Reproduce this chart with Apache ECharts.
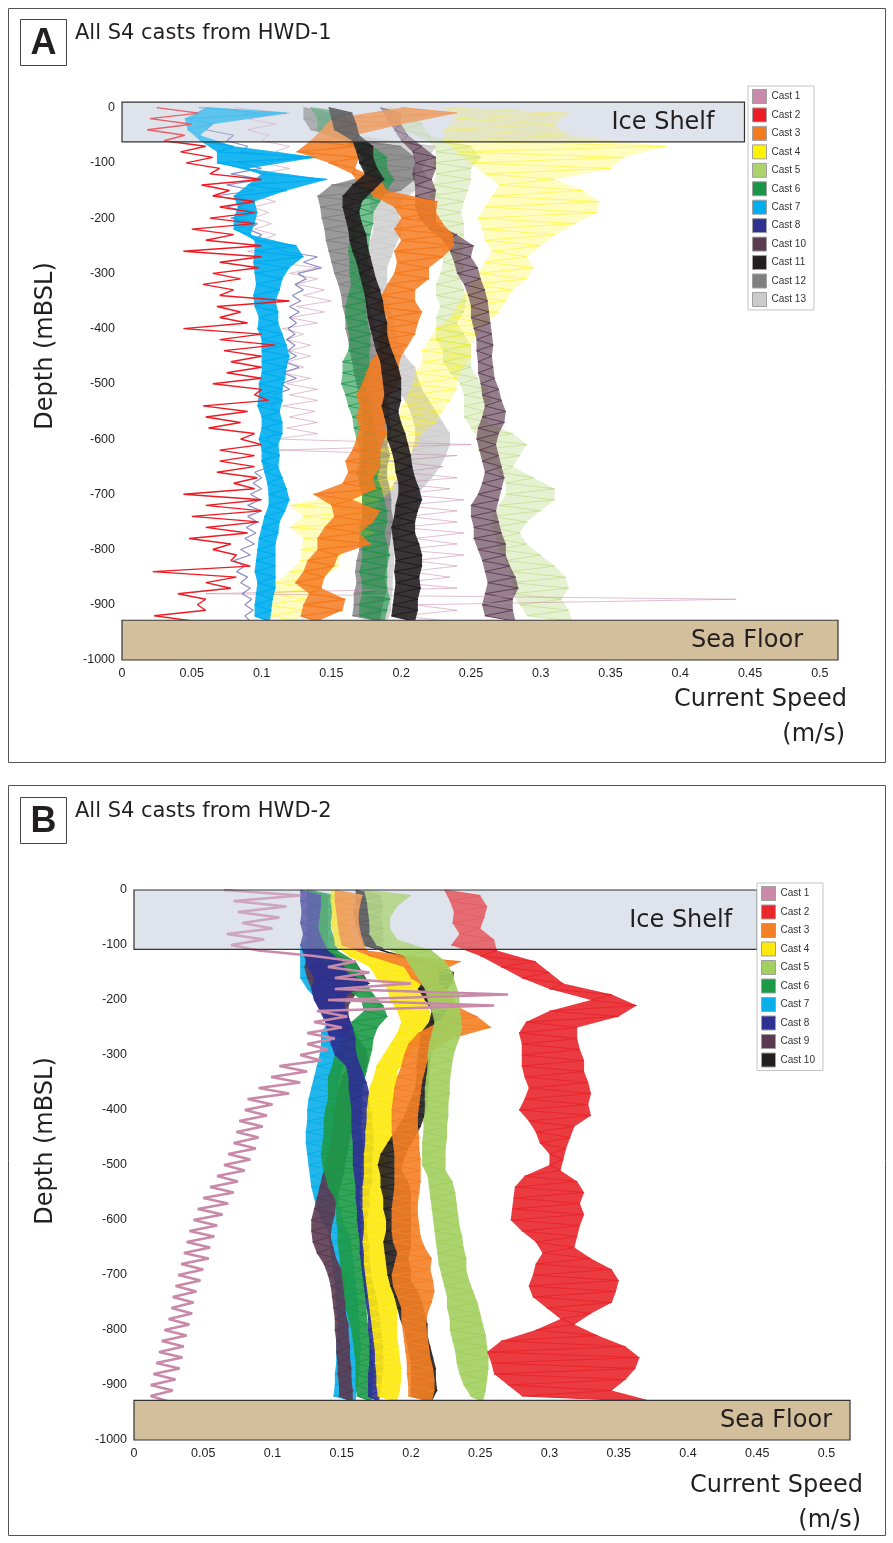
<!DOCTYPE html>
<html>
<head>
<meta charset="utf-8">
<script src="https://cdn.jsdelivr.net/npm/echarts@6.0.0/dist/echarts.min.js"></script>
<style>
  html, body { margin: 0; padding: 0; background: #fff; }
  #chart { width: 893px; height: 1543px; }
</style>
</head>
<body>
<div id="chart"></div>
<script>
// depth levels (m, negative = below sea level) where the low readings were taken
const depths = [0,-20,-40,-60,-80,-100,-120,-140,-160,-180,-200,-220,-240,-260,-280,-300,-320,-340,-360,-380,-400,-420,-440,-460,-480,-500,-520,-540,-560,-580,-600,-620,-640,-660,-680,-700,-720,-740,-760,-780,-800,-820,-840,-860,-880,-900,-920];
// depth levels where the high readings were taken
const peakDepths = [-10,-30,-50,-70,-90,-110,-130,-150,-170,-190,-210,-230,-250,-270,-290,-310,-330,-350,-370,-390,-410,-430,-450,-470,-490,-510,-530,-550,-570,-590,-610,-630,-650,-670,-690,-710,-730,-750,-770,-790,-810,-830,-850,-870,-890,-910,-930];

// boxes: [speedFrom, speedTo, depthTop, depthBottom]
const shelfA = [0, 0.446, 10, -62];
const floorA = [0, 0.513, -928, -1000];
const shelfB = [0, 0.45, 0, -108];
const floorB = [0, 0.517, -928, -1000];

// ---- HWD-1: per cast, low / high speed (m/s) ----
const a1Lo = [.08,.09,.09,.1,.11,.1,.098,.095,.095,.094,.094,.095,.1,.09,.11,.12,.125,.13,.125,.12,.115,.118,.12,.118,.115,.118,.12,.115,.12,.118,.11,.112,.19,.2,.195,.2,.2,.205,.2,.21,.2,.21,.205,.2,.06,.21,.2];
const a1Hi = [.12,.11,.105,.12,.13,.12,.11,.108,.11,.105,.107,.11,.12,.11,.14,.14,.145,.15,.145,.14,.13,.135,.135,.13,.135,.14,.14,.138,.14,.14,.25,.24,.23,.24,.235,.245,.24,.24,.245,.24,.245,.24,.235,.24,.44,.24,.235];
const a2Lo = [.025,.02,.018,.03,.042,.046,.063,.057,.065,.07,.063,.05,.06,.044,.07,.065,.058,.07,.068,.07,.044,.07,.073,.078,.075,.065,.095,.058,.06,.062,.085,.07,.07,.068,.08,.044,.06,.05,.06,.048,.065,.078,.022,.06,.04,.054,.023];
const a2Hi = [.055,.05,.045,.06,.065,.07,.1,.077,.095,.095,.095,.08,.1,.1,.098,.085,.08,.12,.085,.09,.1,.11,.1,.1,.1,.1,.105,.09,.085,.095,.1,.095,.095,.097,.095,.1,.1,.098,.09,.078,.082,.092,.082,.078,.06,.06,.053];
const a3Lo = [.2,.15,.143,.135,.125,.148,.165,.17,.18,.195,.2,.195,.2,.195,.197,.195,.19,.186,.18,.19,.185,.183,.184,.178,.175,.172,.168,.17,.168,.17,.168,.165,.16,.162,.158,.137,.15,.152,.145,.14,.14,.133,.13,.124,.134,.13,.128];
const a3Hi = [.24,.2,.167,.167,.17,.167,.185,.19,.226,.225,.23,.237,.238,.23,.22,.22,.21,.21,.215,.212,.21,.205,.2,.198,.2,.195,.19,.19,.188,.19,.186,.185,.185,.18,.182,.165,.185,.18,.17,.178,.155,.152,.145,.143,.16,.158,.14];
const a4Lo = [.23,.24,.23,.23,.24,.25,.26,.27,.265,.26,.255,.258,.26,.265,.26,.255,.25,.245,.24,.235,.225,.22,.215,.215,.21,.208,.205,.2,.198,.19,.188,.185,.18,.175,.17,.155,.12,.13,.12,.13,.128,.128,.12,.11,.105,.104,.105];
const a4Hi = [.32,.31,.32,.39,.36,.35,.31,.33,.342,.34,.325,.31,.3,.29,.295,.29,.28,.275,.27,.262,.255,.25,.25,.245,.24,.24,.235,.23,.225,.215,.212,.205,.2,.198,.195,.185,.18,.175,.18,.165,.157,.155,.145,.14,.133,.13,.125];
const a5Lo = [.19,.195,.2,.22,.225,.223,.225,.223,.22,.222,.22,.225,.23,.23,.23,.228,.225,.225,.228,.225,.225,.225,.23,.23,.235,.242,.245,.245,.245,.25,.255,.255,.26,.27,.275,.275,.27,.265,.265,.268,.27,.275,.278,.28,.28,.285,.29];
const a5Hi = [.215,.215,.22,.25,.257,.25,.25,.248,.245,.243,.245,.245,.245,.243,.245,.243,.245,.247,.245,.24,.245,.25,.25,.25,.255,.262,.265,.26,.262,.28,.29,.285,.28,.295,.31,.31,.3,.29,.285,.29,.3,.31,.318,.32,.315,.32,.323];
const a6Lo = [.135,.14,.14,.16,.17,.172,.175,.17,.17,.168,.165,.165,.163,.162,.163,.163,.164,.162,.16,.16,.162,.163,.162,.158,.158,.157,.16,.162,.165,.166,.168,.17,.17,.168,.17,.172,.172,.172,.17,.17,.172,.172,.17,.172,.172,.17,.17];
const a6Hi = [.16,.165,.165,.18,.19,.19,.195,.19,.185,.18,.18,.178,.177,.176,.178,.177,.178,.176,.175,.176,.178,.178,.177,.178,.176,.175,.178,.18,.18,.182,.183,.185,.185,.183,.186,.188,.19,.19,.188,.19,.192,.19,.19,.19,.192,.19,.188];
const a7Lo = [.06,.045,.047,.056,.068,.068,.1,.09,.08,.083,.08,.08,.095,.095,.094,.095,.096,.094,.095,.098,.097,.1,.1,.1,.1,.098,.098,.097,.1,.1,.098,.1,.1,.102,.104,.105,.105,.102,.1,.098,.097,.096,.095,.097,.096,.095,.095];
const a7Hi = [.118,.065,.056,.08,.14,.09,.147,.118,.095,.097,.095,.092,.125,.13,.12,.115,.113,.11,.112,.112,.115,.118,.12,.118,.117,.115,.115,.113,.115,.115,.112,.113,.112,.115,.118,.12,.117,.113,.112,.11,.11,.11,.11,.11,.108,.107,.106];
const a8Lo = [.055,.055,.06,.075,.085,.083,.078,.075,.067,.075,.078,.09,.095,.115,.13,.126,.124,.122,.12,.12,.119,.118,.119,.116,.115,.114,.108,.106,.105,.104,.104,.102,.1,.095,.094,.092,.09,.09,.089,.088,.085,.08,.082,.085,.086,.088,.088];
const a8Hi = [.1,.065,.08,.09,.13,.1,.1,.095,.09,.095,.097,.1,.11,.14,.143,.132,.13,.128,.127,.125,.124,.124,.125,.127,.125,.12,.115,.112,.11,.11,.108,.108,.106,.1,.1,.099,.1,.097,.096,.095,.092,.088,.09,.092,.093,.094,.092];
const a10Lo = [.185,.19,.195,.2,.208,.21,.208,.21,.21,.21,.213,.22,.23,.235,.238,.24,.245,.248,.25,.25,.252,.254,.254,.255,.255,.257,.258,.26,.258,.255,.254,.256,.258,.26,.258,.255,.25,.25,.252,.252,.255,.258,.26,.262,.26,.258,.26];
const a10Hi = [.2,.2,.205,.215,.225,.225,.222,.225,.224,.225,.225,.24,.252,.25,.255,.257,.26,.262,.263,.264,.265,.266,.265,.266,.267,.27,.272,.275,.274,.27,.268,.27,.272,.274,.272,.27,.268,.27,.272,.275,.275,.278,.282,.284,.28,.28,.282];
const a11Lo = [.148,.15,.152,.165,.168,.17,.174,.165,.158,.158,.16,.162,.163,.165,.168,.17,.172,.174,.175,.176,.178,.18,.182,.185,.186,.187,.188,.186,.188,.19,.19,.193,.195,.196,.198,.198,.196,.195,.193,.194,.195,.196,.195,.196,.195,.194,.193];
const a11Hi = [.165,.168,.17,.18,.18,.183,.188,.18,.172,.17,.172,.175,.176,.178,.18,.182,.185,.187,.188,.19,.19,.192,.195,.198,.2,.2,.2,.198,.2,.203,.205,.207,.208,.21,.213,.215,.212,.21,.21,.213,.215,.215,.213,.214,.212,.212,.21];
const a12Lo = [.13,.13,.135,.16,.17,.175,.18,.15,.14,.142,.143,.145,.146,.148,.15,.152,.155,.157,.158,.16,.16,.162,.163,.165,.166,.168,.17,.172,.172,.173,.172,.172,.172,.17,.17,.172,.172,.173,.172,.17,.17,.168,.167,.168,.166,.166,.165];
const a12Hi = [.15,.152,.155,.2,.21,.21,.21,.2,.168,.166,.167,.168,.168,.17,.17,.172,.175,.176,.178,.18,.18,.182,.183,.185,.186,.188,.19,.192,.192,.193,.19,.192,.19,.19,.192,.193,.193,.195,.193,.192,.19,.19,.188,.19,.188,.186,.185];
const a13Lo = [.14,.145,.15,.18,.182,.18,.185,.18,.178,.178,.18,.18,.178,.175,.172,.172,.17,.172,.174,.176,.178,.182,.185,.19,.193,.196,.2,.205,.208,.21,.21,.208,.205,.2,.195,.19,.185,.183,.182,.18,.178,.178,.177,.176,.175,.175,.174];
const a13Hi = [.16,.16,.165,.225,.22,.215,.22,.21,.2,.198,.2,.2,.196,.193,.19,.19,.19,.19,.193,.195,.197,.2,.203,.21,.212,.215,.22,.225,.23,.235,.235,.232,.228,.222,.215,.21,.205,.2,.198,.197,.195,.195,.194,.194,.193,.193,.19];

// ---- HWD-2 ----
const b1Lo = [.065,.072,.075,.078,.067,.07,.13,.14,.145,.145,.14,.132,.13,.125,.125,.12,.105,.099,.09,.082,.08,.076,.074,.072,.068,.065,.06,.055,.05,.046,.043,.04,.038,.036,.034,.032,.03,.028,.027,.025,.022,.02,.018,.016,.014,.012,.012];
const b1Hi = [.12,.11,.105,.1,.094,.09,.16,.17,.2,.27,.26,.154,.15,.145,.14,.135,.125,.12,.112,.1,.096,.093,.09,.088,.084,.08,.075,.072,.068,.064,.06,.058,.055,.054,.05,.048,.045,.043,.042,.04,.038,.036,.035,.033,.03,.028,.025];
const b2Lo = [.224,.228,.231,.23,.235,.229,.25,.265,.28,.3,.33,.3,.283,.278,.28,.28,.28,.282,.285,.282,.278,.285,.29,.293,.3,.3,.282,.275,.274,.273,.272,.28,.29,.295,.29,.288,.285,.288,.298,.308,.29,.265,.255,.258,.26,.27,.28];
const b2Hi = [.25,.255,.253,.25,.26,.262,.29,.3,.31,.345,.363,.35,.32,.32,.322,.325,.325,.328,.33,.328,.33,.318,.315,.312,.31,.308,.32,.325,.322,.325,.322,.32,.318,.33,.345,.35,.348,.345,.33,.318,.335,.355,.365,.362,.355,.345,.375];
const b3Lo = [.145,.145,.146,.147,.148,.15,.17,.195,.2,.212,.213,.226,.22,.205,.198,.195,.193,.19,.188,.187,.186,.186,.186,.187,.188,.188,.188,.188,.187,.186,.186,.186,.187,.19,.188,.186,.187,.19,.193,.193,.194,.195,.196,.197,.197,.198,.198];
const b3Hi = [.165,.163,.162,.163,.165,.168,.236,.22,.22,.231,.232,.248,.258,.23,.217,.212,.21,.208,.207,.206,.205,.205,.206,.206,.207,.207,.207,.206,.205,.205,.206,.207,.21,.215,.214,.216,.217,.215,.212,.211,.212,.213,.214,.216,.217,.217,.215];
const b4Lo = [.142,.142,.143,.142,.144,.145,.155,.17,.175,.183,.185,.19,.193,.19,.185,.18,.175,.173,.17,.169,.168,.168,.167,.167,.166,.166,.166,.165,.165,.165,.166,.166,.165,.166,.166,.167,.168,.169,.17,.171,.172,.173,.174,.174,.175,.175,.176];
const b4Hi = [.157,.156,.156,.156,.158,.16,.19,.2,.207,.212,.212,.215,.217,.21,.2,.196,.19,.19,.188,.188,.187,.186,.186,.185,.185,.184,.184,.184,.183,.183,.184,.184,.183,.183,.184,.186,.188,.19,.19,.19,.19,.191,.192,.193,.193,.192,.19];
const b5Lo = [.166,.168,.169,.17,.17,.175,.195,.2,.205,.21,.212,.215,.217,.215,.213,.212,.212,.211,.21,.21,.21,.209,.209,.208,.208,.208,.212,.213,.214,.215,.216,.217,.218,.219,.22,.222,.224,.226,.226,.228,.228,.23,.232,.233,.235,.238,.243];
const b5Hi = [.2,.19,.185,.185,.19,.215,.225,.23,.232,.235,.235,.236,.237,.235,.232,.23,.229,.228,.228,.227,.227,.226,.226,.225,.225,.225,.23,.232,.233,.234,.235,.237,.238,.24,.24,.242,.245,.248,.25,.252,.254,.255,.256,.256,.255,.254,.252];
const b6Lo = [.125,.126,.127,.125,.128,.13,.13,.14,.15,.154,.164,.166,.157,.156,.148,.145,.143,.14,.14,.14,.138,.137,.137,.136,.135,.136,.138,.14,.145,.146,.146,.147,.147,.148,.149,.15,.151,.152,.153,.155,.157,.158,.159,.16,.16,.16,.161];
const b6Hi = [.145,.143,.143,.142,.145,.147,.16,.164,.168,.173,.18,.183,.176,.173,.172,.17,.168,.166,.165,.165,.165,.164,.165,.166,.165,.164,.165,.163,.163,.164,.164,.164,.165,.165,.166,.167,.168,.168,.168,.169,.17,.171,.172,.173,.173,.172,.172];
const b7Lo = [.128,.128,.128,.128,.128,.12,.12,.12,.12,.125,.132,.135,.14,.135,.135,.134,.132,.13,.128,.126,.125,.125,.124,.124,.125,.126,.127,.128,.13,.132,.135,.14,.141,.142,.143,.144,.145,.146,.146,.147,.147,.146,.146,.146,.145,.145,.144];
const b7Hi = [.14,.14,.14,.14,.14,.135,.14,.145,.15,.148,.145,.15,.16,.154,.153,.152,.15,.148,.147,.146,.145,.145,.144,.143,.143,.144,.145,.146,.148,.15,.152,.156,.157,.158,.159,.16,.161,.162,.162,.163,.163,.164,.163,.163,.162,.161,.16];
const b8Lo = [.12,.12,.121,.12,.122,.12,.123,.125,.13,.128,.13,.134,.138,.14,.142,.145,.153,.155,.155,.156,.157,.157,.157,.158,.158,.158,.159,.16,.16,.161,.161,.162,.163,.163,.164,.165,.166,.167,.168,.169,.169,.17,.17,.17,.169,.169,.169];
const b8Hi = [.135,.135,.134,.133,.136,.14,.15,.154,.17,.154,.152,.155,.158,.16,.16,.162,.165,.168,.17,.17,.172,.172,.173,.173,.172,.172,.172,.17,.17,.169,.168,.169,.17,.17,.171,.172,.174,.176,.177,.178,.179,.18,.18,.18,.179,.178,.177];
const b9Lo = [.125,.125,.125,.125,.125,.125,.125,.123,.125,.128,.13,.135,.14,.148,.155,.157,.155,.15,.148,.146,.145,.144,.143,.142,.14,.138,.136,.134,.132,.13,.128,.128,.129,.132,.137,.14,.142,.143,.144,.145,.145,.146,.146,.147,.147,.148,.148];
const b9Hi = [.14,.14,.14,.14,.14,.14,.16,.165,.17,.16,.155,.155,.158,.162,.168,.169,.167,.165,.163,.16,.158,.157,.156,.155,.153,.152,.15,.148,.146,.145,.143,.142,.144,.146,.15,.153,.152,.153,.153,.155,.155,.156,.156,.157,.157,.158,.158];
const b10Lo = [.16,.16,.158,.16,.162,.165,.19,.212,.21,.205,.21,.215,.213,.207,.206,.205,.204,.204,.203,.2,.197,.193,.188,.183,.178,.176,.178,.178,.18,.18,.182,.182,.18,.181,.182,.183,.185,.188,.19,.192,.195,.197,.198,.2,.2,.2,.2];
const b10Hi = [.178,.18,.178,.18,.18,.18,.215,.231,.23,.222,.225,.236,.233,.218,.215,.214,.213,.213,.212,.212,.21,.207,.203,.198,.195,.193,.198,.2,.2,.2,.2,.2,.2,.198,.2,.2,.205,.208,.21,.212,.212,.214,.216,.218,.218,.219,.215];

const legendNamesA = ['Cast 1','Cast 2','Cast 3','Cast 4','Cast 5','Cast 6','Cast 7','Cast 8','Cast 10','Cast 11','Cast 12','Cast 13'];
const legendNamesB = ['Cast 1','Cast 2','Cast 3','Cast 4','Cast 5','Cast 6','Cast 7','Cast 8','Cast 9','Cast 10'];

// draw order is back to front
const castsA = [
  { name: 'Cast 13', color: '#cbcbcb', lo: a13Lo, hi: a13Hi, fill: 0.8, width: 1, alpha: 0.9 },
  { name: 'Cast 12', color: '#808080', lo: a12Lo, hi: a12Hi, fill: 0.8, width: 1, alpha: 0.9 },
  { name: 'Cast 5',  color: '#acd26a', lo: a5Lo,  hi: a5Hi,  fill: 0.3, width: 0.8, alpha: 0.6 },
  { name: 'Cast 4',  color: '#fff200', lo: a4Lo,  hi: a4Hi,  fill: 0.25, width: 0.8, alpha: 0.6 },
  { name: 'Cast 6',  color: '#1a9547', lo: a6Lo,  hi: a6Hi,  fill: 0.6, width: 1, alpha: 0.85 },
  { name: 'Cast 10', color: '#5c3a50', lo: a10Lo, hi: a10Hi, fill: 0.65, width: 1, alpha: 0.9 },
  { name: 'Cast 1',  color: '#c98aa9', lo: a1Lo,  hi: a1Hi,  fill: 0, width: 1, alpha: 0.55 },
  { name: 'Cast 8',  color: '#2e3192', lo: a8Lo,  hi: a8Hi,  fill: 0, width: 1.2, alpha: 0.55 },
  { name: 'Cast 7',  color: '#00aeef', lo: a7Lo,  hi: a7Hi,  fill: 0.9, width: 1.3, alpha: 1 },
  { name: 'Cast 3',  color: '#f47b20', lo: a3Lo,  hi: a3Hi,  fill: 0.85, width: 1.3, alpha: 1 },
  { name: 'Cast 11', color: '#231f20', lo: a11Lo, hi: a11Hi, fill: 0.9, width: 1.2, alpha: 1 },
  { name: 'Cast 2',  color: '#ed1c24', lo: a2Lo,  hi: a2Hi,  fill: 0, width: 1.4, alpha: 1 }
];
const castsB = [
  { name: 'Cast 7',  color: '#0aaee9', lo: b7Lo,  hi: b7Hi,  fill: 0.9, width: 1.2, alpha: 1 },
  { name: 'Cast 9',  color: '#5b3a51', lo: b9Lo,  hi: b9Hi,  fill: 0.9, width: 1.2, alpha: 1 },
  { name: 'Cast 6',  color: '#1d9a48', lo: b6Lo,  hi: b6Hi,  fill: 0.9, width: 1.2, alpha: 1 },
  { name: 'Cast 8',  color: '#2e3192', lo: b8Lo,  hi: b8Hi,  fill: 0.9, width: 1.2, alpha: 1 },
  { name: 'Cast 4',  color: '#fde910', lo: b4Lo,  hi: b4Hi,  fill: 0.9, width: 1.2, alpha: 1 },
  { name: 'Cast 10', color: '#231f20', lo: b10Lo, hi: b10Hi, fill: 0.9, width: 1.2, alpha: 1 },
  { name: 'Cast 3',  color: '#f47f25', lo: b3Lo,  hi: b3Hi,  fill: 0.9, width: 1.2, alpha: 1 },
  { name: 'Cast 5',  color: '#a2cf5f', lo: b5Lo,  hi: b5Hi,  fill: 0.9, width: 1.2, alpha: 1 },
  { name: 'Cast 1',  color: '#c98aa9', lo: b1Lo,  hi: b1Hi,  fill: 0, width: 2.4, alpha: 1 },
  { name: 'Cast 2',  color: '#e8262b', lo: b2Lo,  hi: b2Hi,  fill: 0.9, width: 1.2, alpha: 1 }
];

const FONT = 'Liberation Sans';
const TEXT = '#231f20';

// sawtooth through the low and high readings
function zig(lo, hi) {
  const pts = [];
  depths.forEach((d, i) => {
    pts.push([lo[i], d], [hi[i], peakDepths[i]]);
  });
  return pts;
}

function fillSeries(ax, c, z) {
  return {
    type: 'custom', xAxisIndex: ax, yAxisIndex: ax, z: z, silent: true, animation: false,
    data: [[c.lo[0], depths[0]]],
    renderItem: (params, api) => {
      const pts = depths.map((d, i) => api.coord([c.lo[i], d]));
      for (let i = depths.length - 1; i >= 0; i--) pts.push(api.coord([c.hi[i], peakDepths[i]]));
      return { type: 'polygon', shape: { points: pts }, style: { fill: c.color, opacity: c.fill } };
    }
  };
}

function lineSeries(ax, tag, c, z) {
  return {
    name: tag + '|' + c.name, type: 'line', xAxisIndex: ax, yAxisIndex: ax, z: z,
    color: c.color, symbol: 'none', silent: true, animation: false,
    lineStyle: { width: c.width, opacity: c.alpha },
    data: zig(c.lo, c.hi)
  };
}

// rectangle between two data corners, optional label on the right
function boxSeries(ax, box, z, style, label, pad) {
  return {
    type: 'custom', xAxisIndex: ax, yAxisIndex: ax, z: z, silent: true, animation: false,
    data: [box],
    renderItem: (params, api) => {
      const p0 = api.coord([box[0], box[2]]);
      const p1 = api.coord([box[1], box[3]]);
      const children = [{
        type: 'rect',
        shape: { x: p0[0], y: p0[1], width: p1[0] - p0[0], height: p1[1] - p0[1] },
        style: style
      }];
      if (label) {
        children.push({
          type: 'text',
          style: {
            text: label, x: p1[0] - pad, y: (p0[1] + p1[1]) / 2 + 1,
            fill: TEXT, font: '24px "DejaVu Sans"', align: 'right', verticalAlign: 'middle'
          }
        });
      }
      return { type: 'group', children: children };
    }
  };
}

const series = [];
series.push(boxSeries(0, shelfA, 1, { fill: '#dfe3ec' }));
castsA.forEach((c, i) => {
  if (c.fill > 0) series.push(fillSeries(0, c, 2 + i * 2));
  series.push(lineSeries(0, 'A', c, 3 + i * 2));
});
series.push(boxSeries(0, shelfA, 40, { fill: 'rgba(223,227,236,0.35)', stroke: '#333', lineWidth: 1.2 }, 'Ice Shelf', 30));
series.push(boxSeries(0, floorA, 40, { fill: '#d3bf9b', stroke: '#333', lineWidth: 1.2 }, 'Sea Floor', 35));

series.push(boxSeries(1, shelfB, 1, { fill: '#dfe3ec' }));
castsB.forEach((c, i) => {
  if (c.fill > 0) series.push(fillSeries(1, c, 2 + i * 2));
  series.push(lineSeries(1, 'B', c, 3 + i * 2));
});
series.push(boxSeries(1, shelfB, 40, { fill: 'rgba(223,227,236,0.3)', stroke: '#333', lineWidth: 1.2 }, 'Ice Shelf', 25));
series.push(boxSeries(1, floorB, 40, { fill: '#d3bf9b', stroke: '#333', lineWidth: 1.2 }, 'Sea Floor', 18));

const axisLabel = { color: TEXT, fontSize: 12.5, fontFamily: FONT };

function xAxis(idx, max) {
  return {
    type: 'value', gridIndex: idx, min: 0, max: max, interval: 0.05,
    axisLine: { show: false }, axisTick: { show: false }, splitLine: { show: false },
    axisLabel: Object.assign({ margin: 7, formatter: v => (v > 0.5001 ? '' : String(+v.toFixed(2))) }, axisLabel)
  };
}
function yAxis(idx, max) {
  return {
    type: 'value', gridIndex: idx, min: -1000, max: max, interval: 100,
    axisLine: { show: false }, axisTick: { show: false }, splitLine: { show: false },
    axisLabel: Object.assign({ margin: 7, formatter: v => (v > 0 ? '' : String(v)) }, axisLabel)
  };
}

function legend(tag, names, left, top, gap) {
  return {
    data: names.map(n => tag + '|' + n), left: left, top: top, orient: 'vertical', z: 50,
    icon: 'rect', itemWidth: 14, itemHeight: 14, itemGap: gap, selectedMode: false,
    padding: [3, 8, 3, 4], backgroundColor: '#fff', borderColor: '#c4c4c4', borderWidth: 1,
    itemStyle: { borderColor: '#a0a0a0', borderWidth: 1 },
    textStyle: { fontSize: 10, color: '#333', fontFamily: FONT },
    formatter: n => n.split('|')[1]
  };
}

function panelText(top, letter, title, depthY, speedY, speedRight) {
  return [
    { type: 'rect', shape: { x: 20.5, y: top + 11.5, width: 46, height: 46 }, style: { fill: '#fff', stroke: '#444', lineWidth: 1 } },
    { type: 'text', x: 43.5, y: top + 36, style: { text: letter, font: 'bold 36px "Liberation Sans"', fill: TEXT, align: 'center', verticalAlign: 'middle' } },
    { type: 'text', x: 75, y: top + 26, style: { text: title, font: '21px "DejaVu Sans"', fill: TEXT, verticalAlign: 'middle' } },
    { type: 'text', x: 46, y: depthY, rotation: Math.PI / 2, style: { text: 'Depth (mBSL)', font: '24px "DejaVu Sans"', fill: TEXT, align: 'center', verticalAlign: 'middle' } },
    { type: 'text', x: speedRight, y: speedY, style: { text: 'Current Speed', font: '24px "DejaVu Sans"', fill: TEXT, align: 'right', verticalAlign: 'middle' } },
    { type: 'text', x: speedRight - 2, y: speedY + 35, style: { text: '(m/s)', font: '24px "DejaVu Sans"', fill: TEXT, align: 'right', verticalAlign: 'middle' } }
  ];
}

const chart = echarts.init(document.getElementById('chart'), null, { renderer: 'canvas' });
chart.setOption({
  backgroundColor: '#fff',
  animation: false,
  grid: [
    { left: 122, right: 55, top: 101, bottom: 883 },
    { left: 134, right: 43, top: 890, bottom: 103 }
  ],
  xAxis: [xAxis(0, floorA[1]), xAxis(1, floorB[1])],
  yAxis: [yAxis(0, 12), yAxis(1, 0)],
  legend: [
    legend('A', legendNamesA, 748, 86, 3.45),
    legend('B', legendNamesB, 757, 883, 3.5)
  ],
  graphic: [
    { type: 'rect', shape: { x: 8.5, y: 8.5, width: 877, height: 754 }, style: { fill: 'none', stroke: '#555', lineWidth: 1 } },
    { type: 'rect', shape: { x: 8.5, y: 785.5, width: 877, height: 750 }, style: { fill: 'none', stroke: '#555', lineWidth: 1 } }
  ].concat(
    panelText(8, 'A', 'All S4 casts from HWD-1', 346, 700, 847),
    panelText(786, 'B', 'All S4 casts from HWD-2', 1141, 1486, 863)
  ),
  series: series
});
</script>
</body>
</html>
